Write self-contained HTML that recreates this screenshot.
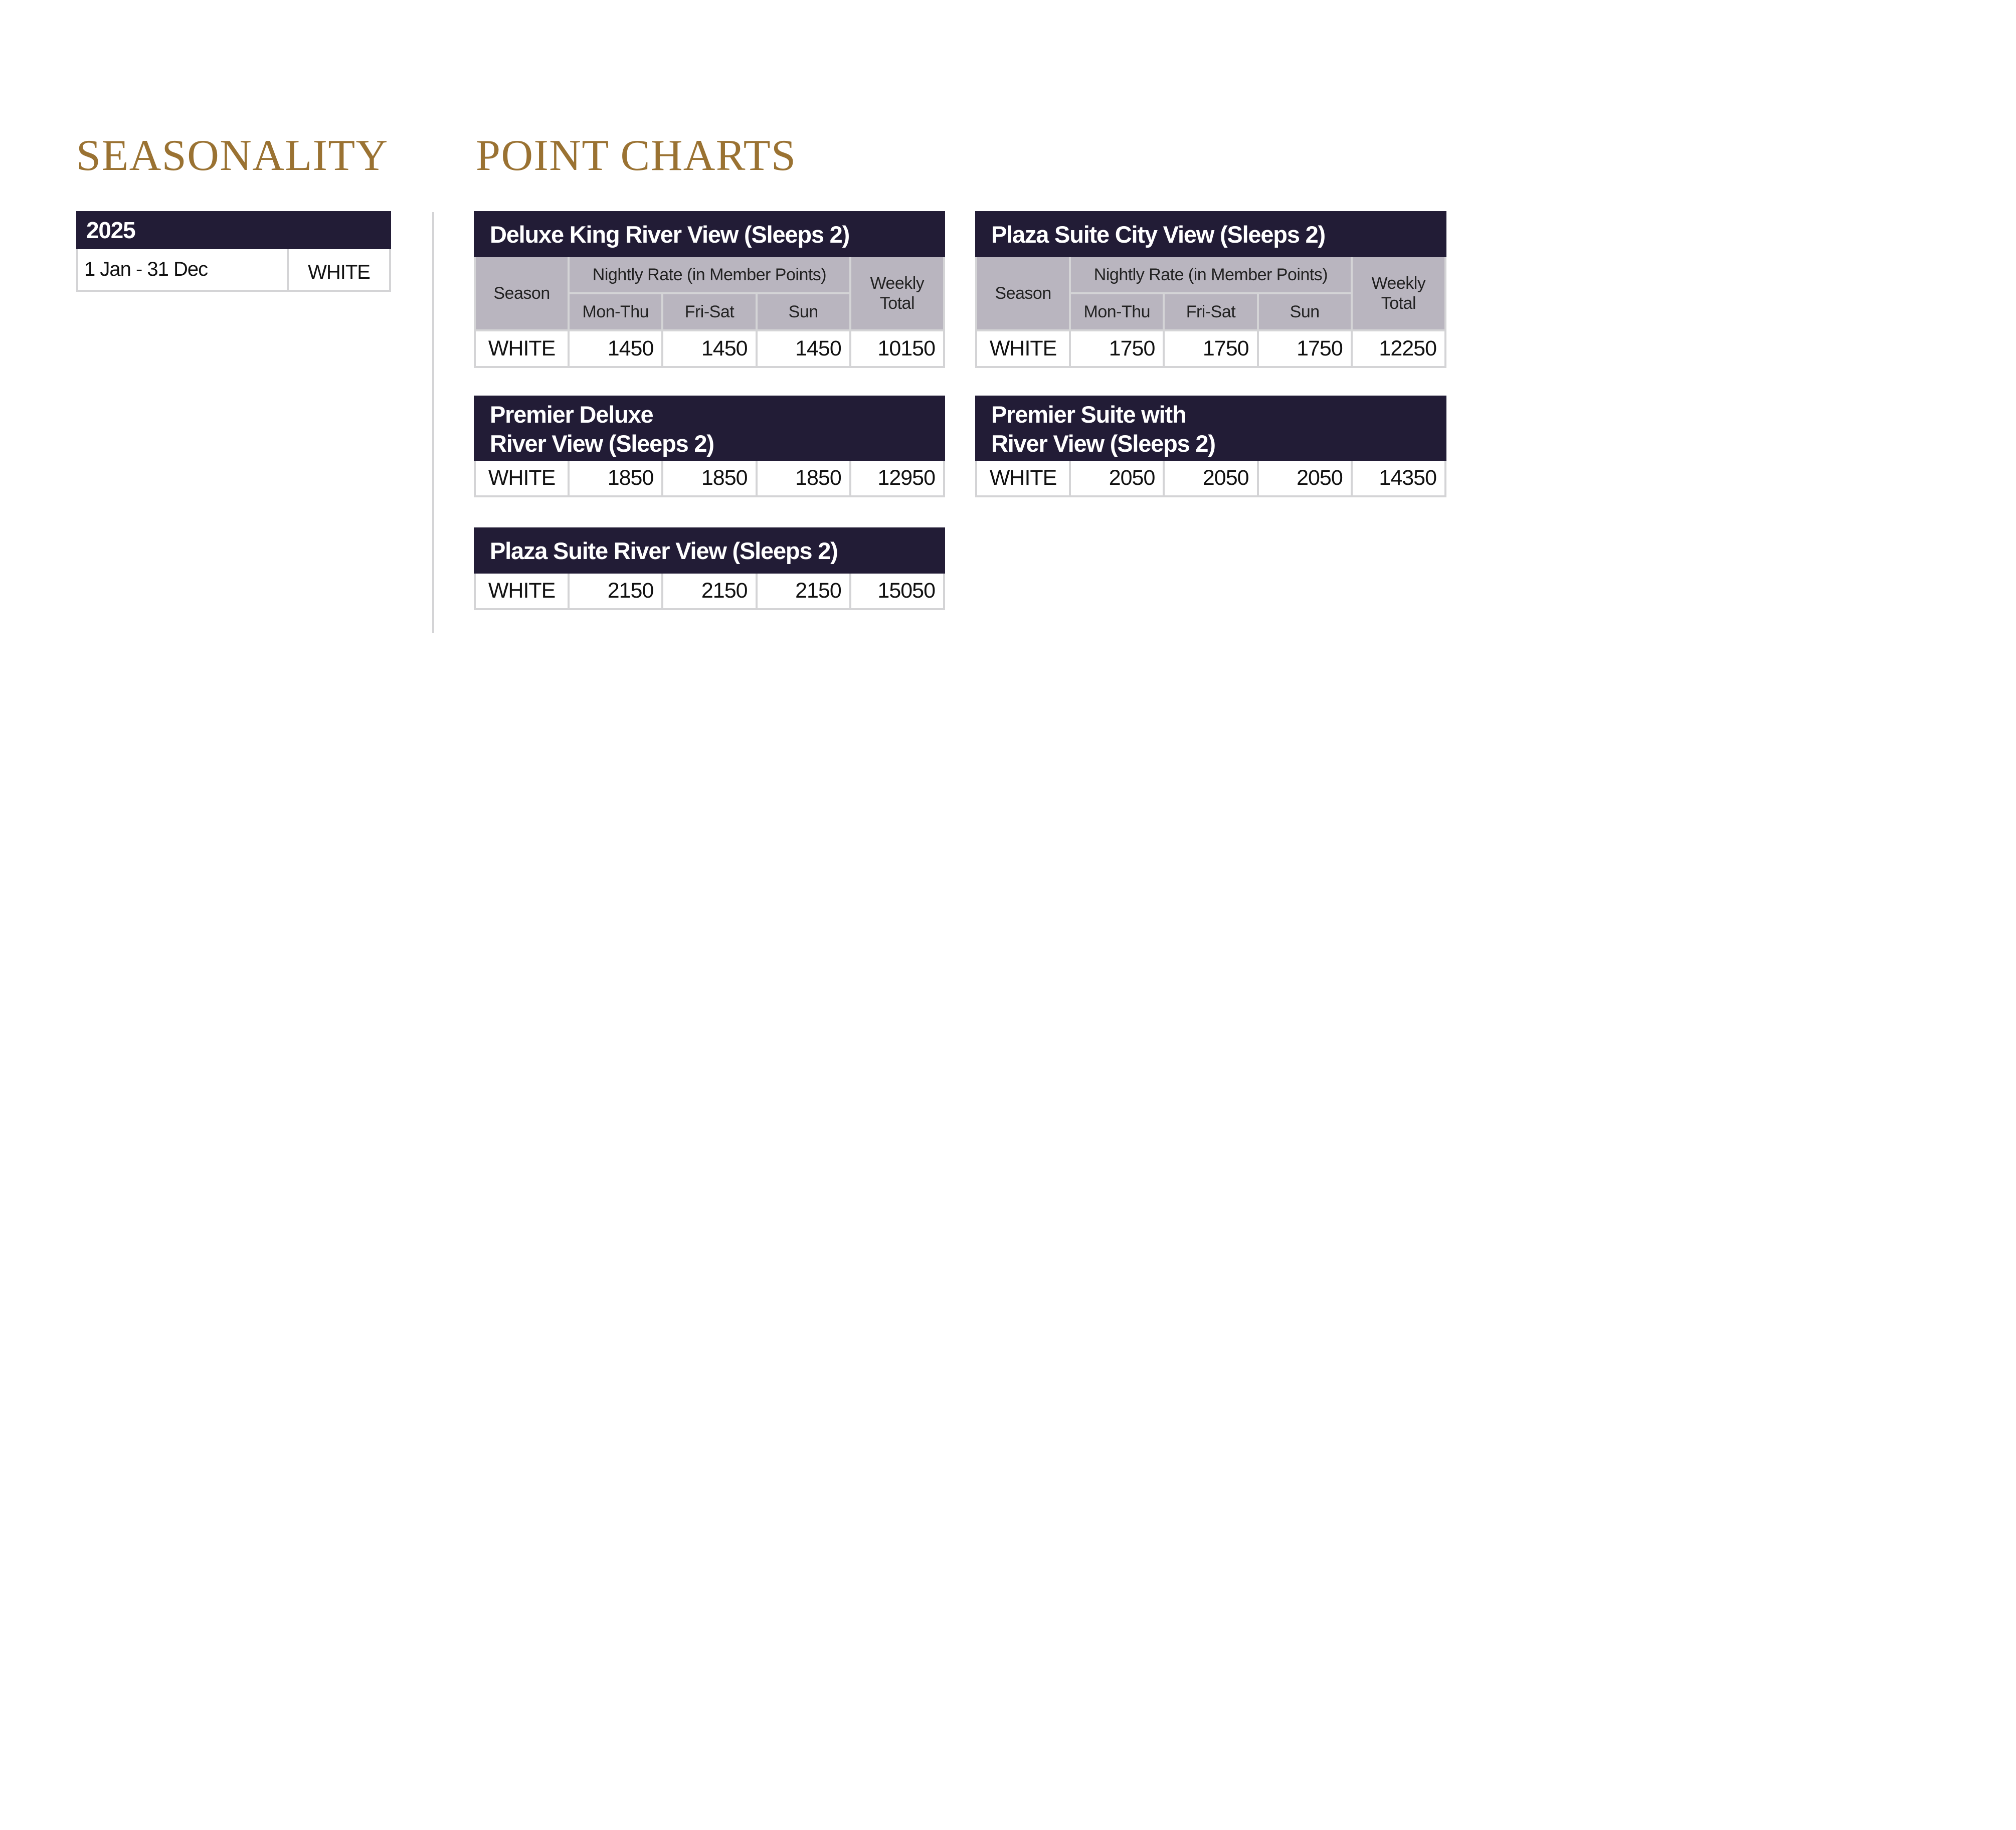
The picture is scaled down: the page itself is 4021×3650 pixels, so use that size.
<!DOCTYPE html>
<html><head><meta charset="utf-8"><style>
body{margin:0;width:4021px;height:3650px;background:#fff;position:relative;font-family:"Liberation Sans",sans-serif;overflow:hidden}
.t{position:absolute;font-family:"Liberation Serif",serif;color:#9a7232;font-size:88px;line-height:90px;letter-spacing:1.5px}
table{position:absolute;border-collapse:collapse;table-layout:fixed}
td{border:4px solid #d4d4d6;padding:0;color:#111;overflow:hidden;white-space:nowrap}
.bar td{background:#221c36;color:#fff;font-weight:bold;font-size:47px;letter-spacing:-1.2px;border-color:#221c36;padding-left:28px;text-align:left}
.h td{background:#b9b5bf;color:#222;font-size:34px;text-align:center;border-color:#d4d4d6;letter-spacing:-0.5px}
.d td{font-size:43px;text-align:right;padding-right:16px;letter-spacing:-1px;height:69px}
.d td:first-child{text-align:center;padding-right:0}
</style></head><body>
<div class="t" style="left:152px;top:266px">SEASONALITY</div>
<div class="t" style="left:949px;top:266px">POINT CHARTS</div>
<div style="position:absolute;left:862px;top:423px;width:4px;height:840px;background:#d4d4d6"></div>

<table style="left:152px;top:421px;width:628px">
<colgroup><col style="width:420px"><col></colgroup>
<tr class="bar"><td colspan="2" style="height:68px;padding-left:16px;font-size:46px">2025</td></tr>
<tr class="d"><td style="height:60px;text-align:left;padding-left:12px;font-size:40px">1 Jan - 31 Dec</td><td style="text-align:center;padding:12px 0 0 0;font-size:40px">WHITE</td></tr>
</table>

<table style="left:945px;top:421px;width:940px">
<colgroup><col><col><col><col><col></colgroup>
<tr class="bar"><td colspan="5" style="height:84px">Deluxe King River View (Sleeps 2)</td></tr>
<tr class="h"><td rowspan="2">Season</td><td colspan="3" style="height:70px">Nightly Rate (in Member Points)</td><td rowspan="2" style="line-height:40px">Weekly<br>Total</td></tr>
<tr class="h"><td style="height:70px">Mon-Thu</td><td>Fri-Sat</td><td>Sun</td></tr>
<tr class="d"><td>WHITE</td><td>1450</td><td>1450</td><td>1450</td><td>10150</td></tr>
</table>

<table style="left:1945px;top:421px;width:940px">
<colgroup><col><col><col><col><col></colgroup>
<tr class="bar"><td colspan="5" style="height:84px">Plaza Suite City View (Sleeps 2)</td></tr>
<tr class="h"><td rowspan="2">Season</td><td colspan="3" style="height:70px">Nightly Rate (in Member Points)</td><td rowspan="2" style="line-height:40px">Weekly<br>Total</td></tr>
<tr class="h"><td style="height:70px">Mon-Thu</td><td>Fri-Sat</td><td>Sun</td></tr>
<tr class="d"><td>WHITE</td><td>1750</td><td>1750</td><td>1750</td><td>12250</td></tr>
</table>

<table style="left:945px;top:789px;width:940px">
<colgroup><col><col><col><col><col></colgroup>
<tr class="bar"><td colspan="5" style="height:118px;line-height:58px;padding-top:4px">Premier Deluxe<br>River View (Sleeps 2)</td></tr>
<tr class="d"><td>WHITE</td><td>1850</td><td>1850</td><td>1850</td><td>12950</td></tr>
</table>

<table style="left:1945px;top:789px;width:940px">
<colgroup><col><col><col><col><col></colgroup>
<tr class="bar"><td colspan="5" style="height:118px;line-height:58px;padding-top:4px">Premier Suite with<br>River View (Sleeps 2)</td></tr>
<tr class="d"><td>WHITE</td><td>2050</td><td>2050</td><td>2050</td><td>14350</td></tr>
</table>

<table style="left:945px;top:1052px;width:940px">
<colgroup><col><col><col><col><col></colgroup>
<tr class="bar"><td colspan="5" style="height:84px">Plaza Suite River View (Sleeps 2)</td></tr>
<tr class="d"><td>WHITE</td><td>2150</td><td>2150</td><td>2150</td><td>15050</td></tr>
</table>
</body></html>
